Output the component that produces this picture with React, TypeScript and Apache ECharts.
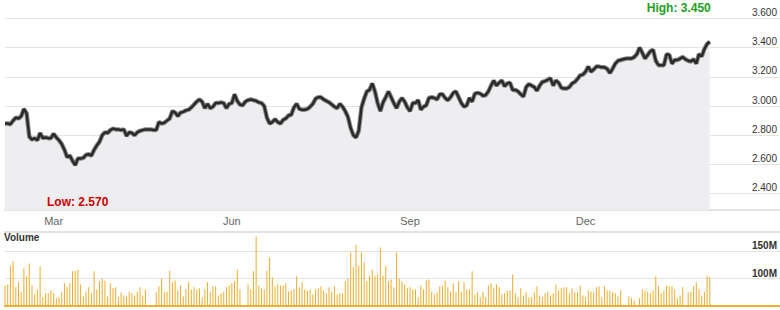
import React, { useEffect, useRef } from "react";
import * as echarts from "echarts";

// ---- data ----
const startDate = "2010-02-03"; // first trading day shown (weekdays only)
const padDays = 26; // empty weekdays after last data point (room for the y labels)

const prices: number[] = [
  2.88, 2.88, 2.875, 2.9, 2.92, 2.915, 2.93, 2.98, 2.95, 2.79,
  2.77, 2.78, 2.765, 2.815, 2.78, 2.785, 2.78, 2.78, 2.81, 2.785,
  2.765, 2.74, 2.7, 2.65, 2.66, 2.625, 2.595, 2.64, 2.64, 2.645,
  2.665, 2.67, 2.66, 2.7, 2.73, 2.755, 2.8, 2.82, 2.815, 2.835,
  2.845, 2.84, 2.84, 2.835, 2.84, 2.795, 2.82, 2.815, 2.8, 2.82,
  2.83, 2.835, 2.84, 2.84, 2.84, 2.835, 2.835, 2.89, 2.88, 2.885,
  2.9, 2.915, 2.965, 2.955, 2.93, 2.955, 2.96, 2.97, 2.975, 2.99,
  3.01, 3.03, 3.045, 3.03, 2.985, 3.015, 2.985, 2.995, 3.02, 3.02,
  3.025, 3.02, 2.985, 3.015, 3.02, 3.08, 3.035, 3.01, 3.005, 3.03,
  3.04, 3.045, 3.04, 3.035, 3.025, 3.02, 3.0, 2.92, 2.88, 2.89,
  2.91, 2.89, 2.88, 2.905, 2.915, 2.935, 2.94, 2.99, 3.015, 2.98,
  2.975, 2.975, 2.98, 2.995, 3.015, 3.05, 3.06, 3.06, 3.045, 3.035,
  3.025, 3.01, 2.995, 2.985, 3.015, 2.995, 2.965, 2.925, 2.85, 2.8,
  2.785, 2.83, 2.99, 3.05, 3.1, 3.11, 3.155, 3.1, 3.02, 2.965,
  3.025, 3.06, 3.1, 3.06, 3.02, 2.985, 3.03, 3.055, 3.03, 2.99,
  2.965, 3.02, 3.02, 3.04, 2.975, 2.995, 3.005, 3.055, 3.06, 3.055,
  3.045, 3.08, 3.08, 3.055, 3.04, 3.06, 3.09, 3.1, 3.06, 3.02,
  2.995, 3.005, 3.055, 3.03, 3.085, 3.09, 3.085, 3.07, 3.075, 3.1,
  3.14, 3.175, 3.14, 3.16, 3.175, 3.135, 3.155, 3.16, 3.11, 3.11,
  3.1, 3.08, 3.065, 3.13, 3.15, 3.14, 3.13, 3.105, 3.14, 3.165,
  3.17, 3.18, 3.19, 3.14, 3.175, 3.16, 3.125, 3.12, 3.12, 3.13,
  3.155, 3.165, 3.185, 3.21, 3.215, 3.235, 3.27, 3.235, 3.25, 3.27,
  3.27, 3.265, 3.265, 3.255, 3.225, 3.255, 3.29, 3.31, 3.315, 3.32,
  3.325, 3.325, 3.325, 3.335, 3.355, 3.4, 3.365, 3.325, 3.35, 3.375,
  3.385, 3.31, 3.28, 3.28, 3.28, 3.355, 3.35, 3.29, 3.315, 3.315,
  3.325, 3.335, 3.32, 3.31, 3.305, 3.32, 3.29, 3.355, 3.34, 3.39,
  3.425, 3.44,
];

// volume in millions
const volumes: number[] = [
  87, 89, 122, 131, 84, 93, 75, 118, 104, 127,
  87, 71, 80, 122, 66, 73, 73, 78, 73, 64,
  66, 75, 91, 84, 91, 113, 114, 116, 89, 67,
  76, 84, 73, 113, 80, 95, 100, 96, 67, 91,
  82, 84, 66, 75, 69, 67, 76, 73, 69, 76,
  84, 69, 80, 45, 42, 46, 75, 86, 100, 76,
  76, 114, 93, 96, 78, 87, 67, 80, 93, 80,
  84, 80, 82, 66, 80, 93, 75, 86, 86, 69,
  73, 76, 84, 87, 91, 95, 116, 80, 45, 44,
  89, 80, 113, 176, 87, 82, 80, 114, 138, 102,
  86, 89, 87, 87, 91, 76, 78, 80, 104, 84,
  93, 80, 78, 80, 71, 80, 82, 86, 78, 73,
  84, 76, 86, 71, 73, 73, 95, 100, 147, 120,
  161, 123, 147, 129, 95, 105, 116, 104, 107, 156,
  105, 122, 95, 98, 84, 147, 100, 95, 89, 82,
  84, 80, 80, 66, 87, 80, 96, 98, 75, 71,
  75, 86, 87, 96, 84, 76, 91, 75, 95, 76,
  93, 80, 80, 113, 71, 75, 66, 76, 66, 87,
  91, 82, 89, 84, 71, 73, 78, 78, 107, 73,
  66, 82, 69, 75, 66, 66, 75, 86, 69, 66,
  73, 76, 69, 73, 89, 78, 82, 84, 84, 73,
  82, 75, 75, 87, 69, 66, 78, 76, 75, 84,
  86, 66, 86, 78, 78, 75, 73, 67, 78, 45,
  44, 67, 64, 60, 46, 64, 80, 78, 76, 73,
  78, 104, 86, 73, 78, 87, 86, 86, 80, 64,
  69, 84, 47, 75, 76, 86, 93, 80, 69, 76,
  105, 102,
];

const labelMonths = [2, 5, 8, 11]; // Mar, Jun, Sep, Dec (0-based months)
const monthNames = ["Jan", "Feb", "Mar", "Apr", "May", "Jun", "Jul", "Aug", "Sep", "Oct", "Nov", "Dec"];
const highValue = 3.45;
const lowValue = 2.57;

const priceMin = 2.288;
const priceMax = 3.726;
const volMin = 50;
const volMax = 185;
const volLabels = [100, 150];

function weekdayDates(start: string, count: number): string[] {
  const out: string[] = [];
  const d = new Date(start + "T00:00:00Z");
  while (out.length < count) {
    const wd = d.getUTCDay();
    if (wd !== 0 && wd !== 6) out.push(d.toISOString().slice(0, 10));
    d.setUTCDate(d.getUTCDate() + 1);
  }
  return out;
}

const FONT = "'Liberation Sans', Arial, Helvetica, sans-serif";

export default function App() {
  const ref = useRef<HTMLDivElement>(null);

  useEffect(() => {
    document.body.style.margin = "0";
    if (!ref.current) return;
    const chart = echarts.init(ref.current, undefined, { renderer: "svg" });

    const cats = weekdayDates(startDate, prices.length + padDays);
    const labelIdx = new Set<number>();
    for (let i = 1; i < prices.length; i++) {
      const m = Number(cats[i].slice(5, 7)) - 1;
      const pm = Number(cats[i - 1].slice(5, 7)) - 1;
      if (m !== pm && labelMonths.includes(m)) labelIdx.add(i);
    }

    const option: any = {
      animation: false,
      backgroundColor: "#ffffff",
      textStyle: { fontFamily: FONT },
      title: {
        text: "Volume",
        left: 4,
        top: 232,
        padding: 0,
        textStyle: { fontSize: 10, fontWeight: "bold", color: "#333", fontFamily: FONT },
      },
      grid: [
        { left: 5, right: 0, top: 0, height: 210 },
        { left: 5, right: 0, top: 231.5, height: 74.5 },
      ],
      xAxis: [
        {
          type: "category",
          gridIndex: 0,
          data: cats,
          boundaryGap: false,
          axisLine: { show: true, lineStyle: { color: "#e2e2e2", width: 2 } },
          axisTick: { show: false },
          splitLine: { show: false },
          axisLabel: {
            interval: (i: number) => labelIdx.has(i),
            formatter: (v: string) => monthNames[Number(v.slice(5, 7)) - 1],
            color: "#666",
            fontSize: 11,
            margin: 5,
            fontFamily: FONT,
          },
        },
        {
          type: "category",
          gridIndex: 1,
          data: cats,
          boundaryGap: false,
          axisLine: { show: true, lineStyle: { color: "#edb030", width: 2 } },
          axisTick: { show: false },
          axisLabel: { show: false },
          splitLine: { show: false },
        },
        {
          type: "category",
          gridIndex: 1,
          position: "top",
          data: cats,
          boundaryGap: false,
          axisLine: { show: true, lineStyle: { color: "#e2e2e2", width: 2 } },
          axisTick: { show: false },
          axisLabel: { show: false },
          splitLine: { show: false },
        },
      ],
      yAxis: [
        {
          type: "value",
          gridIndex: 0,
          position: "right",
          min: priceMin,
          max: priceMax,
          splitNumber: 7,
          axisLine: { show: false },
          axisTick: { show: false },
          axisLabel: {
            inside: true,
            align: "right",
            verticalAlign: "bottom",
            margin: 3,
            color: "#333",
            fontSize: 10,
            fontFamily: FONT,
            padding: [0, 0, 1, 0],
            formatter: (v: number) => {
              const k = Math.round(v / 0.2);
              return Math.abs(k * 0.2 - v) < 1e-6 ? v.toFixed(3) : "";
            },
          },
          splitLine: {
            show: true,
            showMinLine: false,
            showMaxLine: false,
            lineStyle: { color: "#e4e4e4", width: 1 },
          },
        },
        {
          type: "value",
          gridIndex: 1,
          position: "right",
          min: volMin,
          max: volMax,
          interval: 50,
          axisLine: { show: false },
          axisTick: { show: false },
          axisLabel: {
            inside: true,
            align: "right",
            verticalAlign: "bottom",
            margin: 3,
            color: "#333",
            fontSize: 10,
            fontWeight: "bold",
            fontFamily: FONT,
            formatter: (v: number) => (volLabels.includes(v) ? v + "M" : ""),
          },
          splitLine: {
            show: true,
            showMinLine: false,
            showMaxLine: false,
            lineStyle: { color: "#e4e4e4", width: 1 },
          },
        },
      ],
      series: [
        {
          // soft halo under the price line
          type: "line",
          xAxisIndex: 0,
          yAxisIndex: 0,
          data: prices,
          symbol: "none",
          silent: true,
          lineStyle: { color: "#8a8a8a", width: 4.5 },
          areaStyle: { color: "#eeeef0", opacity: 1 },
          z: 1,
        },
        {
          type: "line",
          xAxisIndex: 0,
          yAxisIndex: 0,
          data: prices,
          symbol: "none",
          smooth: false,
          lineStyle: { color: "#2a2a2a", width: 2.5 },
          z: 2,
          markPoint: {
            symbol: "circle",
            symbolSize: 0,
            silent: true,
            data: [
              {
                type: "max",
                label: {
                  show: true,
                  formatter: "High: " + highValue.toFixed(3),
                  color: "#23a023",
                  fontWeight: "bold",
                  fontSize: 12,
                  fontFamily: FONT,
                  align: "right",
                  offset: [1, -34],
                },
              },
              {
                type: "min",
                label: {
                  show: true,
                  formatter: "Low: " + lowValue.toFixed(3),
                  color: "#d00000",
                  fontWeight: "bold",
                  fontSize: 12,
                  fontFamily: FONT,
                  align: "center",
                  offset: [2.5, 37],
                },
              },
            ],
          },
        },
        {
          type: "bar",
          xAxisIndex: 1,
          yAxisIndex: 1,
          data: volumes,
          barWidth: 1,
          itemStyle: { color: "#edac2b" },
        },
      ],
    };

    chart.setOption(option);
    return () => chart.dispose();
  }, []);

  return <div ref={ref} style={{ width: 780, height: 310 }} />;
}
